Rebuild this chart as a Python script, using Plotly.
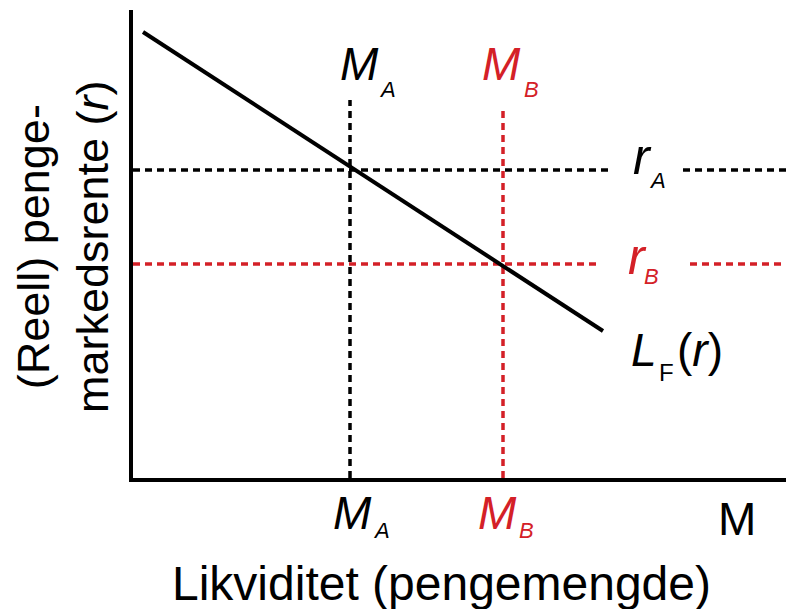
import plotly.graph_objects as go

# ---- data (diagram units; x = liquidity, y = interest rate) ----
curve_M = [10, 470]          # L_F(r) endpoints, liquidity
curve_r = [446, 147]         # L_F(r) endpoints, rate
M_A, r_A = 217, 308          # equilibrium A
M_B, r_B = 370, 214          # equilibrium B
MA_top, MB_top = 378, 368    # top of vertical guides
rA_gap = [477, 550]          # gap in r_A guide (label)
rB_gap = [467, 557]          # gap in r_B guide (label)
X_MAX, Y_MAX = 661, 468

BLACK = "#000000"
RED = "#d42027"
FONT = "Liberation Sans"
DASH = "7px,5px"

fig = go.Figure()

# vertical guides
fig.add_trace(go.Scatter(x=[M_A, M_A], y=[0, MA_top], mode="lines",
                         line=dict(color=BLACK, width=3.5, dash=DASH), hoverinfo="skip"))
fig.add_trace(go.Scatter(x=[M_B, M_B], y=[0, MB_top], mode="lines",
                         line=dict(color=RED, width=3.5, dash=DASH), hoverinfo="skip"))
# horizontal guides
fig.add_trace(go.Scatter(x=[0, rA_gap[0], None, rA_gap[1], X_MAX],
                         y=[r_A, r_A, None, r_A, r_A], mode="lines",
                         line=dict(color=BLACK, width=3.5, dash=DASH), hoverinfo="skip"))
fig.add_trace(go.Scatter(x=[0, rB_gap[0], None, rB_gap[1], X_MAX],
                         y=[r_B, r_B, None, r_B, r_B], mode="lines",
                         line=dict(color=RED, width=3.5, dash=DASH), hoverinfo="skip"))
# liquidity demand curve
fig.add_trace(go.Scatter(x=curve_M, y=curve_r, mode="lines",
                         line=dict(color=BLACK, width=4), hoverinfo="skip"))


def lab(x, y, text, size, color=BLACK, angle=0):
    # positions given in diagram units, placed in paper coordinates
    fig.add_annotation(x=x / X_MAX, y=y / Y_MAX, xref="paper", yref="paper",
                       text=text, showarrow=False, textangle=angle, borderpad=0,
                       font=dict(family=FONT, size=size, color=color),
                       xanchor="center", yanchor="middle")


# top labels
lab(M_A + 9, 414, "<i>M</i>", 46)
lab(M_A + 37, 388, "<i>A</i>", 22)
lab(M_B - 2, 414, "<i>M</i>", 46, RED)
lab(M_B + 28, 388, "<i>B</i>", 22, RED)
# right labels
lab(509, r_A + 13, "<i>r</i>", 50)
lab(524, r_A - 10, "<i>A</i>", 22)
lab(504, r_B + 7, "<i>r</i>", 50, RED)
lab(518, r_B - 12, "<i>B</i>", 22, RED)
lab(511, 128, "<i>L</i>", 46)
lab(533, 106, "F", 24)
lab(567, 128, "(<i>r</i>)", 46)
# bottom labels
lab(M_A + 2, -35, "<i>M</i>", 46)
lab(M_A + 31, -52, "<i>A</i>", 22)
lab(M_B - 6, -35, "<i>M</i>", 46, RED)
lab(M_B + 23, -52, "<i>B</i>", 22, RED)
lab(604, -41, "M", 46)
# axis titles
lab(308, -105, "Likviditet (pengemengde)", 48)
lab(-70, 231, "(Reell) penge-<br>markedsrente (<i>r</i>)", 45, angle=-90)

# page body has an 8px margin: figure is sized/offset so the plot lands in place
fig.update_layout(
    width=786, height=601,
    margin=dict(l=125, r=0, t=2, b=131),
    paper_bgcolor="white", plot_bgcolor="white",
    showlegend=False,
    xaxis=dict(range=[0, X_MAX], showgrid=False, zeroline=False, showticklabels=False,
               ticks="", showline=True, linecolor=BLACK, linewidth=4),
    yaxis=dict(range=[0, Y_MAX], showgrid=False, zeroline=False, showticklabels=False,
               ticks="", showline=True, linecolor=BLACK, linewidth=4),
)

fig.write_html("out.html")
